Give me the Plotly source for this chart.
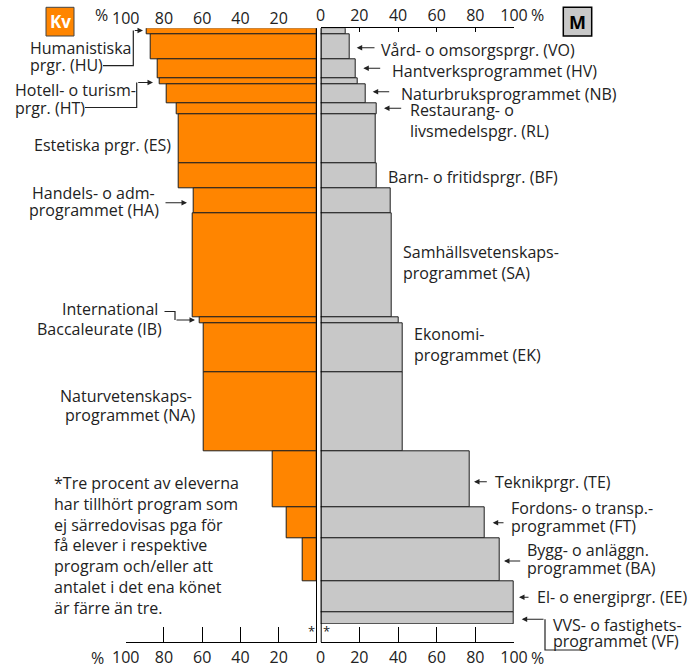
import plotly.graph_objects as go
import numpy as np

# ---- data (top to bottom) ----
programs = ["HU", "VO", "HV", "HT", "NB", "RL", "ES", "BF", "HA", "SA",
            "IB", "EK", "NA", "TE", "FT", "BA", "EE", "VF"]
# share of all pupils (%), determines bar thickness
share = [1.0, 4.1, 3.0, 1.0, 3.1, 1.9, 8.0, 4.0, 4.1, 16.9,
         1.0, 8.1, 12.9, 9.0, 5.1, 7.0, 5.1, 1.9]
# percent women (Kv) / men (M)
women = [89.0, 87.1, 83.3, 82.4, 78.4, 73.3, 72.3, 72.3, 64.3, 64.8,
         61.2, 59.2, 59.2, 23.4, 16.0, 7.5, None, None]
men = [12.9, 14.8, 17.9, 18.9, 23.3, 29.1, 28.6, 29.0, 36.4, 36.7,
       40.5, 42.4, 42.4, 76.9, 85.0, 92.8, 99.6, 100.0]
left_ticks = [100, 80, 60, 40, 20]
right_ticks = [0, 20, 40, 60, 80, 100]

W, H = 688, 667
ORANGE = "#FF8500"
GREY = "#C8C8C8"
EDGE = "#1E1E1E"
TXT = "#222222"
FONT = "Open Sans"
FS = 16


def px(x):
    return x / W


def py(y):
    return 1 - y / H


total = float(np.sum(share))
centers = list(np.cumsum(share) - np.array(share) / 2)

fig = go.Figure()
fig.add_trace(go.Bar(y=centers, x=women, width=share, orientation="h",
                     xaxis="x", yaxis="y",
                     marker=dict(color=ORANGE, line=dict(color=EDGE, width=1)),
                     hoverinfo="skip", showlegend=False))
fig.add_trace(go.Bar(y=centers, x=men, width=share, orientation="h",
                     xaxis="x2", yaxis="y",
                     marker=dict(color=GREY, line=dict(color=EDGE, width=1)),
                     hoverinfo="skip", showlegend=False))

bottom_pos = py(642.3)
tickfont = dict(family=FONT, size=FS, color=TXT)
common = dict(showgrid=False, zeroline=False, fixedrange=True, tickfont=tickfont,
              automargin=False)

fig.update_layout(
    width=W, height=H, autosize=False,
    margin=dict(l=0, r=0, t=0, b=0, pad=0, autoexpand=False),
    showlegend=False,
    paper_bgcolor="white", plot_bgcolor="rgba(0,0,0,0)",
    bargap=0, barmode="overlay",
    font=dict(family=FONT, size=FS, color=TXT),
    yaxis=dict(domain=[py(624), py(28.3)], range=[total, 0], visible=False,
               fixedrange=True, automargin=False),
    xaxis=dict(domain=[px(125.7), px(317)], range=[100, 0], anchor="free",
               position=bottom_pos, showline=True, linecolor="black", linewidth=1.3,
               ticks="inside", ticklen=15, tickwidth=1.3, tickcolor="black",
               tickvals=left_ticks, ticktext=[str(v) for v in left_ticks], **common),
    xaxis2=dict(domain=[px(320.7), px(514)], range=[0, 100], anchor="free",
                position=bottom_pos, showline=True, linecolor="black", linewidth=1.3,
                ticks="inside", ticklen=15, tickwidth=1.3, tickcolor="black",
                tickvals=right_ticks, ticktext=[str(v) for v in right_ticks], **common),
    xaxis3=dict(overlaying="x", side="top", anchor="y", range=[100, 0],
                showline=False, ticks="", tickvals=left_ticks,
                ticktext=[str(v) for v in left_ticks], **common),
    xaxis4=dict(overlaying="x2", side="top", anchor="y", range=[0, 100],
                showline=True, linecolor="black", linewidth=1.3,
                ticks="inside", ticklen=4, tickwidth=1.3, tickcolor="black",
                tickvals=right_ticks, ticktext=[str(v) for v in right_ticks], **common),
)
# dummy traces so overlay axes render
fig.add_trace(go.Scatter(x=[None], y=[None], xaxis="x3", yaxis="y", showlegend=False))
fig.add_trace(go.Scatter(x=[None], y=[None], xaxis="x4", yaxis="y", showlegend=False))

shapes = []
# central vertical lines at 0 of each side
for xr in ["x", "x2"]:
    shapes.append(dict(type="line", xref=xr, yref="paper", x0=0, x1=0,
                       y0=py(642.3), y1=py(28.3), line=dict(color="black", width=2)))


def path(points):
    d = "M " + " L ".join(f"{px(x)},{py(y)}" for x, y in points)
    shapes.append(dict(type="path", xref="paper", yref="paper", path=d,
                       line=dict(color=TXT, width=1.2)))


annotations = []


def label(text, x, y, anchor="left", size=FS):
    annotations.append(dict(text=text, x=px(x), y=py(y), xref="paper", yref="paper",
                            xanchor=anchor, yanchor="middle", align=anchor,
                            showarrow=False, font=dict(family=FONT, size=size, color=TXT)))


def arrow(tail_x, tail_y, tip_x, tip_y):
    annotations.append(dict(text="", x=px(tip_x), y=py(tip_y), xref="paper", yref="paper",
                            ax=tail_x - tip_x, ay=tail_y - tip_y, axref="pixel", ayref="pixel",
                            showarrow=True, arrowhead=2, arrowsize=1, arrowwidth=1.1,
                            arrowcolor=TXT, standoff=0, startstandoff=0))


# left labels
label("Humanistiska", 28.3, 48)
label("prgr. (HU)", 28.3, 65)
path([(103, 65.7), (133.3, 65.7), (133.3, 30.5)])
arrow(133.3, 30.5, 143, 30.5)

label("Hotell- o turism-", 12.7, 90)
label("prgr. (HT)", 12.7, 108)
path([(85, 107.5), (136.7, 107.5), (136.7, 82.5)])
arrow(136.7, 82.5, 153, 82.5)

label("Estetiska prgr. (ES)", 173.3, 145, "right")

label("Handels- o adm-", 157, 192.5, "right")
label("programmet (HA)", 161, 210, "right")
arrow(164, 202.7, 187, 202.7)

label("International", 160, 309, "right")
label("Baccaleurate (IB)", 164, 329, "right")
path([(164.5, 311.5), (175, 311.5), (175, 320)])
arrow(175, 320, 195, 320)

label("Naturvetenskaps-", 194, 396, "right")
label("programmet (NA)", 197, 414.5, "right")

label("*Tre procent av eleverna<br>har tillhört program som<br>ej särredovisas pga för<br>"
      "få elever i respektive<br>program och/eller att<br>antalet i det ena könet<br>"
      "är färre än tre.", 51.7, 545)

# right labels
arrow(376, 47.7, 356.7, 47.7)
label("Vård- o omsorgsprgr. (VO)", 379, 50)
arrow(381.7, 68.3, 363.3, 68.3)
label("Hantverksprogrammet (HV)", 390, 71)
arrow(390.7, 91.7, 372.7, 91.7)
label("Naturbruksprogrammet (NB)", 399.3, 94)
arrow(402.7, 108.3, 384, 108.3)
label("Restaurang- o", 408.3, 110)
label("livsmedelspgr. (RL)", 408.3, 131.5)
label("Barn- o fritidsprgr. (BF)", 386, 177.3)
label("Samhällsvetenskaps-", 401, 251.5)
label("programmet (SA)", 401, 272.5)
label("Ekonomi-", 411.7, 334)
label("programmet (EK)", 411.7, 355)
arrow(488.3, 481.7, 474, 481.7)
label("Teknikprgr. (TE)", 492.7, 481.7)
arrow(505, 522.7, 492.7, 522.7)
label("Fordons- o transp.-", 509.3, 508)
label("programmet (FT)", 509.3, 525.5)
arrow(521.7, 561, 504, 561)
label("Bygg- o anläggn.", 525, 550)
label("programmet (BA)", 525, 568)
arrow(530, 597.3, 519, 597.3)
label("El- o energiprgr. (EE)", 535, 597.3)
arrow(545, 619.3, 521.7, 619.3)
path([(545, 619.3), (545, 650), (580, 650)])
label("VVS- o fastighets-", 550.7, 624.5)
label("programmet (VF)", 550.7, 640.5)

# asterisks
label("*", 311, 631, "center", 13)
label("*", 326, 631, "center", 13)

# percent signs on axes
label("%", 101, 15, "center")
label("%", 97.5, 658, "center")
label("%", 537.5, 15, "center")
label("%", 537.5, 658, "center")

# Kv / M boxes
shapes.append(dict(type="rect", xref="paper", yref="paper", x0=px(46), x1=px(74),
                   y0=py(36), y1=py(7.3), fillcolor=ORANGE, line=dict(color="#444", width=1)))
shapes.append(dict(type="rect", xref="paper", yref="paper", x0=px(563.3), x1=px(591.7),
                   y0=py(36), y1=py(7.3), fillcolor=GREY, line=dict(color="black", width=1.5)))
annotations.append(dict(text="<b>Kv</b>", x=px(60), y=py(22), xref="paper", yref="paper",
                        xanchor="center", yanchor="middle",
                        showarrow=False, font=dict(family=FONT, size=17, color="white")))
annotations.append(dict(text="<b>M</b>", x=px(577.5), y=py(22), xref="paper", yref="paper",
                        xanchor="center", yanchor="middle",
                        showarrow=False, font=dict(family=FONT, size=18, color="black")))

fig.update_layout(shapes=shapes, annotations=annotations)
fig.write_html("out.html", config={"displayModeBar": False},
               post_script="document.body.style.margin='0';"
               "document.documentElement.style.overflow='hidden';")
